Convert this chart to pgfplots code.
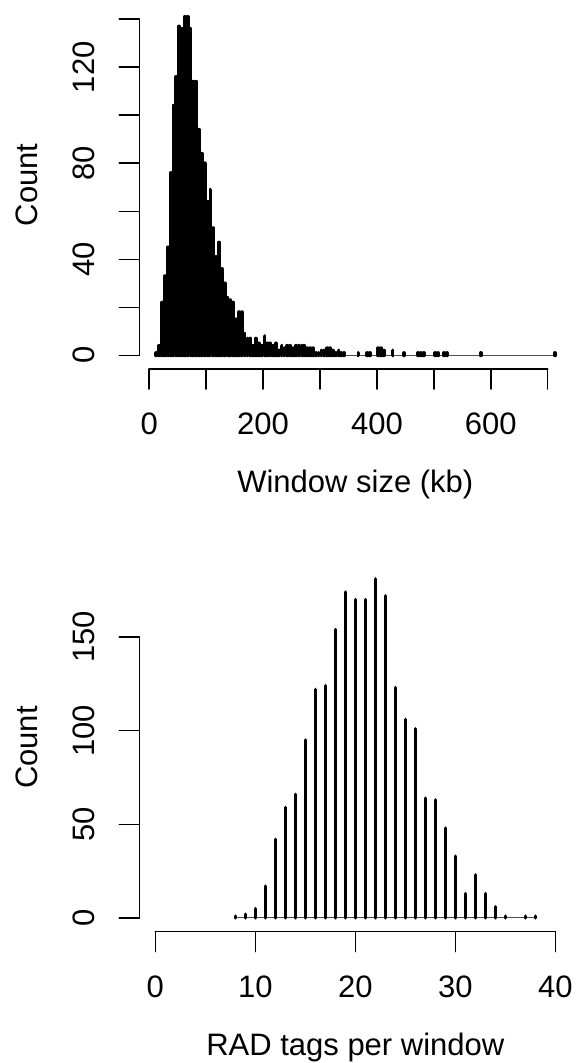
\documentclass[border=0pt]{standalone}
\usepackage{pgfplots}
\usepackage{pgfplotstable}
\pgfplotsset{compat=1.18}
\usepackage{fontspec}
\setmainfont{Liberation Sans}

\pgfplotstableread{
x c
12.5 1
17.5 4
22.5 22
27.5 33
32.5 45
37.5 76
42.5 104
47.5 116
52.5 137
57.5 136
62.5 141
67.5 141
72.5 136
77.5 114
82.5 114
87.5 94
92.5 84
97.5 80
102.5 64
107.5 69
112.5 53
117.5 41
122.5 47
127.5 36
132.5 30
137.5 24
142.5 23
147.5 22
152.5 15
157.5 18
162.5 18
167.5 9
172.5 7
177.5 7
182.5 4
187.5 7
192.5 5
197.5 4
202.5 8
207.5 5
212.5 5
217.5 4
222.5 5
227.5 2
232.5 4
237.5 3
242.5 4
247.5 4
252.5 3
257.5 4
262.5 4
267.5 4
272.5 4
277.5 3
282.5 3
287.5 3
292.5 1
297.5 1
302.5 2
307.5 2
312.5 3
317.5 3
322.5 2
327.5 1
332.5 2
337.5 1
342.5 1
367.5 1
382.5 1
387.5 1
402.5 3
407.5 3
412.5 2
427.5 2
447.5 1
472.5 1
477.5 1
482.5 1
502.5 1
507.5 1
517.5 1
522.5 1
582.5 1
712.5 1
}\topdata

\pgfplotstableread{
x c
8 1
9 2
10 5
11 17
12 42
13 59
14 66
15 95
16 122
17 124
18 154
19 174
20 170
21 170
22 181
23 172
24 123
25 106
26 101
27 64
28 63
29 48
30 33
31 13
32 23
33 13
34 6
35 1
37 1
38 1
}\botdata

\tikzset{
  rlab/.style={font=\fontsize{31}{37}\selectfont, inner sep=0pt},
  rax/.style={line width=1.6pt, line cap=round},
}

\begin{document}
\begin{tikzpicture}
\useasboundingbox (0,0) rectangle (576pt,1063pt);

% ---------- top panel ----------
\begin{axis}[at={(139.3pt,694pt)}, anchor=south west, scale only axis,
  width=432pt, height=368.2pt,
  xmin=-17.5, xmax=741.5, ymin=-5.68, ymax=147.68,
  axis lines=none, ticks=none, clip=false]
\addplot[black!70, line width=1pt, mark=none] coordinates {(12.5,0) (712.5,0)};
\addplot[ycomb, black, line width=3.8pt, line cap=round, mark=none] table[x=x,y=c] {\topdata};
\draw[rax] (axis cs:-17.5,0) -- (axis cs:-17.5,140);
\pgfplotsinvokeforeach{0,20,...,140}{\draw[rax] (axis cs:-17.5,#1) -- ++(-20pt,0pt);}
\pgfplotsinvokeforeach{0,40,80,120}{\node[rlab, rotate=90, anchor=base] at ([xshift=-45pt]axis cs:-17.5,#1) {#1};}
\draw[rax] (axis cs:0,-5.68) -- (axis cs:700,-5.68);
\pgfplotsinvokeforeach{0,100,...,700}{\draw[rax] (axis cs:#1,-5.68) -- ++(0pt,-20pt);}
\pgfplotsinvokeforeach{0,200,400,600}{\node[rlab, anchor=base] at ([yshift=-66pt]axis cs:#1,-5.68) {#1};}
\node[rlab, anchor=base] at ([yshift=-124pt]axis cs:362,-5.68) {Window size (kb)};
\node[rlab, rotate=90, anchor=base] at ([xshift=-102pt]axis cs:-17.5,71) {Count};
\end{axis}

% ---------- bottom panel ----------
\begin{axis}[at={(139.3pt,131.4pt)}, anchor=south west, scale only axis,
  width=432pt, height=368.2pt,
  xmin=-1.6, xmax=41.6, ymin=-7.28, ymax=189.3,
  axis lines=none, ticks=none, clip=false]
\addplot[black!70, line width=1pt, mark=none] coordinates {(8,0) (38,0)};
\addplot[ycomb, black, line width=3.5pt, line cap=round, mark=none] table[x=x,y=c] {\botdata};
\draw[rax] (axis cs:-1.6,0) -- (axis cs:-1.6,150);
\pgfplotsinvokeforeach{0,50,100,150}{\draw[rax] (axis cs:-1.6,#1) -- ++(-20pt,0pt);}
\pgfplotsinvokeforeach{0,50,100,150}{\node[rlab, rotate=90, anchor=base] at ([xshift=-45pt]axis cs:-1.6,#1) {#1};}
\draw[rax] (axis cs:0,-7.28) -- (axis cs:40,-7.28);
\pgfplotsinvokeforeach{0,10,20,30,40}{\draw[rax] (axis cs:#1,-7.28) -- ++(0pt,-20pt);}
\pgfplotsinvokeforeach{0,10,20,30,40}{\node[rlab, anchor=base] at ([yshift=-66pt]axis cs:#1,-7.28) {#1};}
\node[rlab, anchor=base] at ([yshift=-124pt]axis cs:20,-7.28) {RAD tags per window};
\node[rlab, rotate=90, anchor=base] at ([xshift=-102pt]axis cs:-1.6,91) {Count};
\end{axis}
\end{tikzpicture}
\end{document}
